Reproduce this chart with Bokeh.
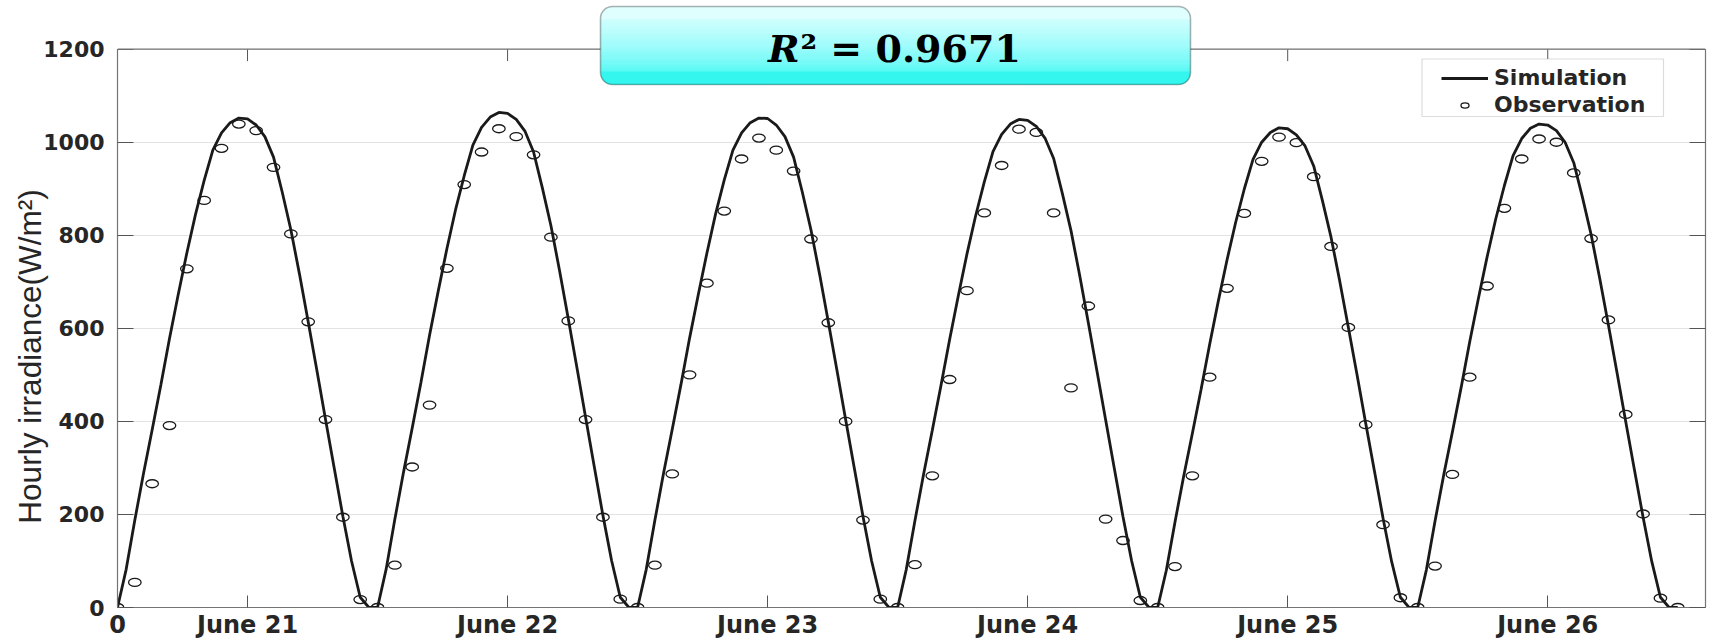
from bokeh.plotting import figure
from bokeh.models import (Range1d, LinearAxis, FixedTicker, Legend, LegendItem,
                          BoxAnnotation, Label, Span)
from bokeh.embed import file_html
from bokeh.resources import INLINE

# ---------------- data ----------------
# hourly observations, one list per day (daylight hours)
obs_june21 = [0, 54, 266, 391, 728, 875, 987, 1039, 1025, 946, 803, 614, 404, 194, 17]
obs_june22 = [0, 91, 302, 435, 729, 909, 979, 1029, 1012, 973, 796, 616, 404, 194, 18]
obs_june23 = [0, 91, 287, 500, 697, 852, 964, 1009, 983, 938, 792, 612, 400, 188, 18]
obs_june24 = [0, 92, 283, 490, 681, 848, 950, 1028, 1021, 848, 472, 648, 190, 144, 15]
obs_june25 = [0, 88, 283, 495, 686, 847, 959, 1011, 999, 926, 776, 602, 393, 178, 21]
obs_june26 = [0, 89, 286, 495, 691, 858, 964, 1007, 1000, 934, 793, 618, 415, 201, 20, 0]

# simulated irradiance, read every half hour
sim_june21 = [0, 82, 188, 288, 382, 478, 578, 672, 762, 845, 918, 983, 1020, 1042, 1052,
              1050, 1037, 1012, 968, 893, 812, 716, 614, 510, 404, 300, 196, 100, 22, 0]
sim_june22 = [0, 83, 190, 291, 386, 483, 585, 680, 771, 855, 928, 994, 1032, 1054, 1064,
              1062, 1049, 1024, 979, 903, 821, 724, 621, 516, 409, 303, 198, 101, 22, 0]
sim_june23 = [0, 82, 188, 289, 383, 479, 579, 672, 762, 846, 919, 983, 1020, 1042, 1052,
              1051, 1037, 1012, 968, 893, 812, 716, 614, 510, 404, 300, 196, 100, 22, 0]
sim_june24 = [0, 82, 187, 287, 381, 477, 576, 670, 760, 842, 915, 980, 1017, 1039, 1049,
              1047, 1034, 1009, 965, 890, 810, 714, 612, 508, 403, 299, 195, 100, 22, 0]
sim_june25 = [0, 80, 184, 282, 374, 468, 566, 659, 747, 828, 900, 963, 1000, 1021, 1031,
              1029, 1016, 992, 949, 875, 796, 702, 602, 500, 396, 294, 192, 98, 22, 0]
sim_june26 = [0, 81, 186, 285, 377, 472, 571, 664, 753, 835, 907, 971, 1008, 1030, 1039,
              1037, 1025, 1000, 956, 882, 802, 707, 607, 504, 399, 296, 194, 99, 22, 0, 0]

tick_positions = [0, 7.5, 22.5, 37.5, 52.5, 67.5, 82.5]
tick_labels = ["0", "June 21", "June 22", "June 23", "June 24", "June 25", "June 26"]
y_ticks = [0, 200, 400, 600, 800, 1000, 1200]
r2_text = "0.9671"

observation = obs_june21 + obs_june22 + obs_june23 + obs_june24 + obs_june25 + obs_june26
obs_t = list(range(len(observation)))
simulation = sim_june21 + sim_june22 + sim_june23 + sim_june24 + sim_june25 + sim_june26
sim_t = [0.5 * i for i in range(len(simulation))]

# ---------------- layout constants (pixels) ----------------
W, H = 1712, 641
FL, FR, FB = 117, 7, 30          # frame left / right border, bottom border
AX_TOP = 49                      # pixel row of the y = 1200 line
FH = H - FB                      # frame spans the full height above the x axis
Y_MAX = 1200
y_end = Y_MAX * FH / (FH - AX_TOP)

p = figure(width=W, height=H, output_backend="svg", toolbar_location=None,
           x_range=Range1d(0, 91.6), y_range=Range1d(0, y_end),
           min_border_left=FL, min_border_right=FR, min_border_top=0,
           min_border_bottom=FB, background_fill_color="white",
           border_fill_color="white")
p.outline_line_color = None

axis_col = "#747474"
tick_col = "#555555"
txt_col = "#262626"

xa = p.xaxis[0]
xa.ticker = FixedTicker(ticks=tick_positions)
xa.major_label_overrides = {float(t): l for t, l in zip(tick_positions, tick_labels)}
ya = p.yaxis[0]
ya.ticker = FixedTicker(ticks=y_ticks)
ya.bounds = (0, Y_MAX)

for ax in (xa, ya):
    ax.axis_line_color = axis_col
    ax.axis_line_width = 1.2
    ax.major_tick_line_color = tick_col
    ax.major_tick_out = 0
    ax.minor_tick_line_color = None
    ax.major_label_text_font = "DejaVu Sans"
    ax.major_label_text_font_style = "bold"
    ax.major_label_text_color = txt_col
xa.major_label_text_font_size = "24px"
ya.major_label_text_font_size = "22px"
xa.major_tick_in = 12
xa.major_label_standoff = 3
ya.major_tick_in = 16
ya.major_label_standoff = 13
ya.axis_label = "Hourly irradiance(W/m²)" + "\u00a0" * 12
ya.axis_label_text_font = "Liberation Sans"
ya.axis_label_text_font_style = "normal"
ya.axis_label_text_font_size = "31.5px"
ya.axis_label_text_color = txt_col
ya.axis_label_standoff = -8

right_ax = LinearAxis(ticker=FixedTicker(ticks=y_ticks), bounds=(0, Y_MAX))
right_ax.axis_line_color = axis_col
right_ax.axis_line_width = 1.2
right_ax.major_tick_line_color = tick_col
right_ax.major_tick_out = 0
right_ax.major_tick_in = 16
right_ax.minor_tick_line_color = None
right_ax.major_label_text_font_size = "1px"
right_ax.major_label_text_color = None
right_ax.major_label_standoff = 0
p.add_layout(right_ax, "right")

p.xgrid.visible = False
p.ygrid.ticker = FixedTicker(ticks=y_ticks)
p.ygrid.grid_line_color = "#e3e3e3"
p.ygrid.grid_line_width = 1

# top edge of the axes box, with inward ticks
p.add_layout(Span(location=Y_MAX, dimension="width", line_color=axis_col, line_width=1.2))
tick_len = 12 * Y_MAX / (FH - AX_TOP)
p.segment(x0=tick_positions, y0=[Y_MAX] * len(tick_positions),
          x1=tick_positions, y1=[Y_MAX - tick_len] * len(tick_positions),
          line_color=tick_col, line_width=1)

sim_r = p.line(sim_t, simulation, line_color="#1a1a1a", line_width=2.8)
obs_r = p.ellipse(obs_t, observation, width=12.5, height=8, width_units="screen",
                  height_units="screen", fill_color=None, line_color="#1a1a1a",
                  line_width=1.3)

# legend frame (screen units: x from frame left, y up from frame bottom)
p.add_layout(BoxAnnotation(left=1421.5 - FL, right=1663 - FL, top=FH - 62.5, bottom=FH - 120,
                           left_units="screen", right_units="screen",
                           top_units="screen", bottom_units="screen",
                           fill_color="white", fill_alpha=1.0,
                           line_color="#8c8c8c", line_width=1.2))
legend = Legend(items=[LegendItem(label="Simulation", renderers=[sim_r]),
                       LegendItem(label="Observation", renderers=[obs_r])],
                location=(1431 - FL, FH - 131), padding=10, spacing=2,
                glyph_width=47, glyph_height=10, label_height=25, label_standoff=6,
                border_line_alpha=0, background_fill_alpha=0,
                label_text_font="DejaVu Sans", label_text_font_style="bold",
                label_text_baseline="alphabetic",
                label_text_font_size="22px", label_text_color=txt_col)
p.add_layout(legend)

# R^2 box with a vertical cyan gradient
bx_l, bx_r = 600 - FL, 1190 - FL
bx_top, bx_bot = FH - 10, FH - 88
stops = [(0.0, (228, 255, 255)), (0.25, (196, 254, 253)), (0.5, (160, 252, 251)),
         (0.75, (112, 250, 247)), (1.0, (42, 245, 238))]


def grad(f):
    for (f0, a), (f1, b) in zip(stops[:-1], stops[1:]):
        if f <= f1:
            u = (f - f0) / (f1 - f0)
            return "#%02x%02x%02x" % tuple(int(round(x + (y - x) * u)) for x, y in zip(a, b))
    return "#%02x%02x%02x" % stops[-1][1]


RAD = 12
n = 36
edge = 13
inner = (bx_top - bx_bot - 2 * edge) / n
bands = [(bx_top, bx_top - edge, 0.04, (RAD, RAD, 0, 0))]
for i in range(n):
    t0 = bx_top - edge - i * inner
    f = (edge + (i + 0.5) * inner) / (bx_top - bx_bot)
    bands.append((t0, t0 - inner, f, 0))
bands.append((bx_bot + edge, bx_bot, 0.96, (0, 0, RAD, RAD)))
for top, bot, f, rad in bands:
    p.add_layout(BoxAnnotation(left=bx_l, right=bx_r, top=top + 0.3, bottom=bot - 0.3,
                               left_units="screen", right_units="screen",
                               top_units="screen", bottom_units="screen",
                               fill_color=grad(f), fill_alpha=1.0, line_alpha=0,
                               border_radius=rad))
p.add_layout(BoxAnnotation(left=bx_l, right=bx_r, top=bx_top, bottom=bx_bot,
                           left_units="screen", right_units="screen",
                           top_units="screen", bottom_units="screen",
                           fill_alpha=0, line_color="black", line_width=1.6,
                           border_radius=RAD))
R2_Y = FH - 52
p.add_layout(Label(x=682, y=R2_Y, x_units="screen", y_units="screen",
                   text="R", text_align="right", text_baseline="alphabetic",
                   text_font="DejaVu Serif", text_font_style="bold italic",
                   text_font_size="38px", text_color="black"))
p.add_layout(Label(x=683, y=R2_Y, x_units="screen", y_units="screen",
                   text="² = " + r2_text, text_align="left", text_baseline="alphabetic",
                   text_font="DejaVu Serif", text_font_style="bold",
                   text_font_size="38px", text_color="black"))

open("out.html", "w").write(file_html(p, INLINE))
